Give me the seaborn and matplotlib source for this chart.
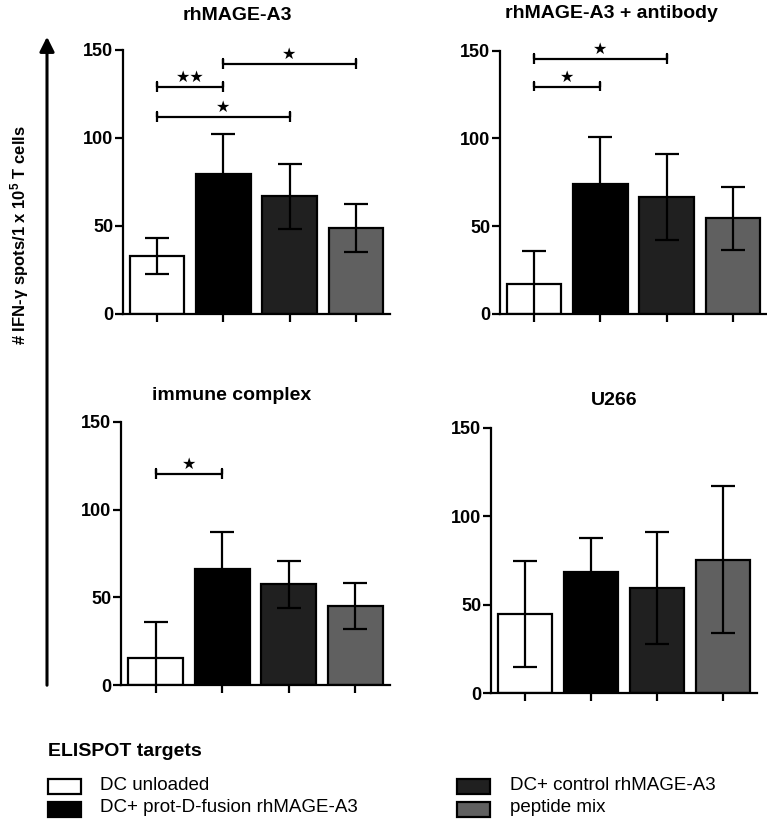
import numpy as np
import pandas as pd
import matplotlib
matplotlib.use("Agg")
import matplotlib.pyplot as plt
from matplotlib.patches import Rectangle, FancyArrowPatch
import seaborn as sns

# ---------------- data ----------------
targets = ["DC unloaded", "DC+ prot-D-fusion rhMAGE-A3",
           "DC+ control rhMAGE-A3", "peptide mix"]
colors = ["#ffffff", "#000000", "#202020", "#606060"]

panel_titles = ["rhMAGE-A3", "rhMAGE-A3 + antibody", "immune complex", "U266"]

means_rh = [33, 79.5, 67, 49]
err_rh = [10, 22.5, 18.5, 13.5]
means_ab = [17, 74, 66.5, 54.5]
err_ab = [19, 27, 24.5, 18]
means_ic = [15.5, 66, 57.5, 45]
err_ic = [20.5, 21.5, 13.5, 13]
means_u = [45, 68.5, 59.5, 75.3]
err_u = [30, 19, 31.5, 41.6]

# significance brackets: (group i, group j, height, label)
sig_rh = [(0, 1, 129, "★★"), (0, 2, 112, "★"), (1, 3, 142, "★")]
sig_ab = [(0, 1, 129.5, "★"), (0, 2, 145, "★")]
sig_ic = [(0, 1, 120.5, "★")]
sig_u = []

yticks = [0, 50, 100, 150]
ylabel = "# IFN-γ spots/1 x 10$^{5}$ T cells"
legend_title = "ELISPOT targets"

# ---------------- style ----------------
sns.set_style("ticks")
plt.rcParams["font.family"] = ["Liberation Sans", "DejaVu Sans"]
plt.rcParams["mathtext.fontset"] = "custom"
plt.rcParams["mathtext.rm"] = "Liberation Sans:bold"
plt.rcParams["mathtext.default"] = "rm"
for key in ["text.color", "axes.labelcolor", "xtick.color", "ytick.color",
            "axes.edgecolor"]:
    plt.rcParams[key] = "black"

W, H = 767, 823
fig = plt.figure(figsize=(W / 100, H / 100), dpi=100)


def rect(l, r, y0, ytop):
    return [l / W, 1 - y0 / H, (r - l) / W, (y0 - ytop) / H]


panels = [
    (rect(123, 390, 314, 50), means_rh, err_rh, sig_rh, panel_titles[0], (237, 15)),
    (rect(500, 767, 314, 50.5), means_ab, err_ab, sig_ab, panel_titles[1], (611, 14)),
    (rect(121, 390, 685, 422), means_ic, err_ic, sig_ic, panel_titles[2], (232, 395)),
    (rect(491, 757, 693, 428), means_u, err_u, sig_u, panel_titles[3], (614, 400)),
]

LW = 1.6
for r, means, errs, sigs, title, tpos in panels:
    ax = fig.add_axes(r)
    df = pd.DataFrame({"target": targets, "value": means})
    sns.barplot(data=df, x="target", y="value", hue="target", order=targets,
                hue_order=targets, palette=colors, saturation=1, width=0.82,
                edgecolor="black", linewidth=LW, legend=False, ax=ax, zorder=2)
    ax.errorbar(np.arange(len(targets)), means, yerr=errs, fmt="none",
                ecolor="black", elinewidth=LW, capsize=8.6, capthick=LW, zorder=3)
    ax.set_xlim(-0.52, 3.52)
    ax.set_ylim(0, 150)
    ax.set_yticks(yticks)
    ax.set_xticks(np.arange(len(targets)))
    ax.set_xticklabels([])
    ax.set_xlabel("")
    ax.set_ylabel("")
    for s in ["top", "right"]:
        ax.spines[s].set_visible(False)
    for s in ["left", "bottom"]:
        ax.spines[s].set_linewidth(LW)
    ax.tick_params(axis="y", length=6, width=LW, pad=1, labelsize=13)
    ax.tick_params(axis="x", length=6, width=LW)
    for lbl in ax.get_yticklabels():
        lbl.set_fontweight("bold")
    for i, j, h, lab in sigs:
        ax.plot([i, i, i, j, j, j], [h - 2.8, h + 2.8, h, h, h + 2.8, h - 2.8],
                color="black", lw=LW, clip_on=False, solid_capstyle="butt")
        ax.annotate(lab, xy=((i + j) / 2, h), xytext=(0, 1.5), textcoords="offset points",
                    ha="center", va="bottom", fontsize=11.5, family=["DejaVu Sans"],
                    annotation_clip=False)
    fig.text(tpos[0] / W, 1 - tpos[1] / H, title, ha="center", va="center",
             fontsize=14, fontweight="bold")

# y label and arrow
fig.text(20 / W, 1 - 235 / H, ylabel, rotation=90, ha="center", va="center",
         fontsize=12, fontweight="bold")
fig.add_artist(FancyArrowPatch((47 / W, 1 - 688 / H), (47 / W, 1 - 34 / H),
                               transform=fig.transFigure, arrowstyle="-|>",
                               mutation_scale=22, lw=2.2, color="black"))

# legend (manual)
fig.text(48 / W, 1 - 752 / H, legend_title, ha="left", va="center",
         fontsize=14, fontweight="bold")
leg_pos = [(48, 786), (48, 809), (457, 786), (457, 809)]
text_x = [100, 100, 510, 510]
for k, (px, py) in enumerate(leg_pos):
    fig.add_artist(Rectangle((px / W, 1 - (py + 7.5) / H), 33 / W, 15 / H,
                             transform=fig.transFigure, facecolor=colors[k],
                             edgecolor="black", linewidth=LW))
    fig.text(text_x[k] / W, 1 - (py - 1) / H, targets[k], ha="left", va="center",
             fontsize=13.5)

fig.savefig("out.png", dpi=100)
